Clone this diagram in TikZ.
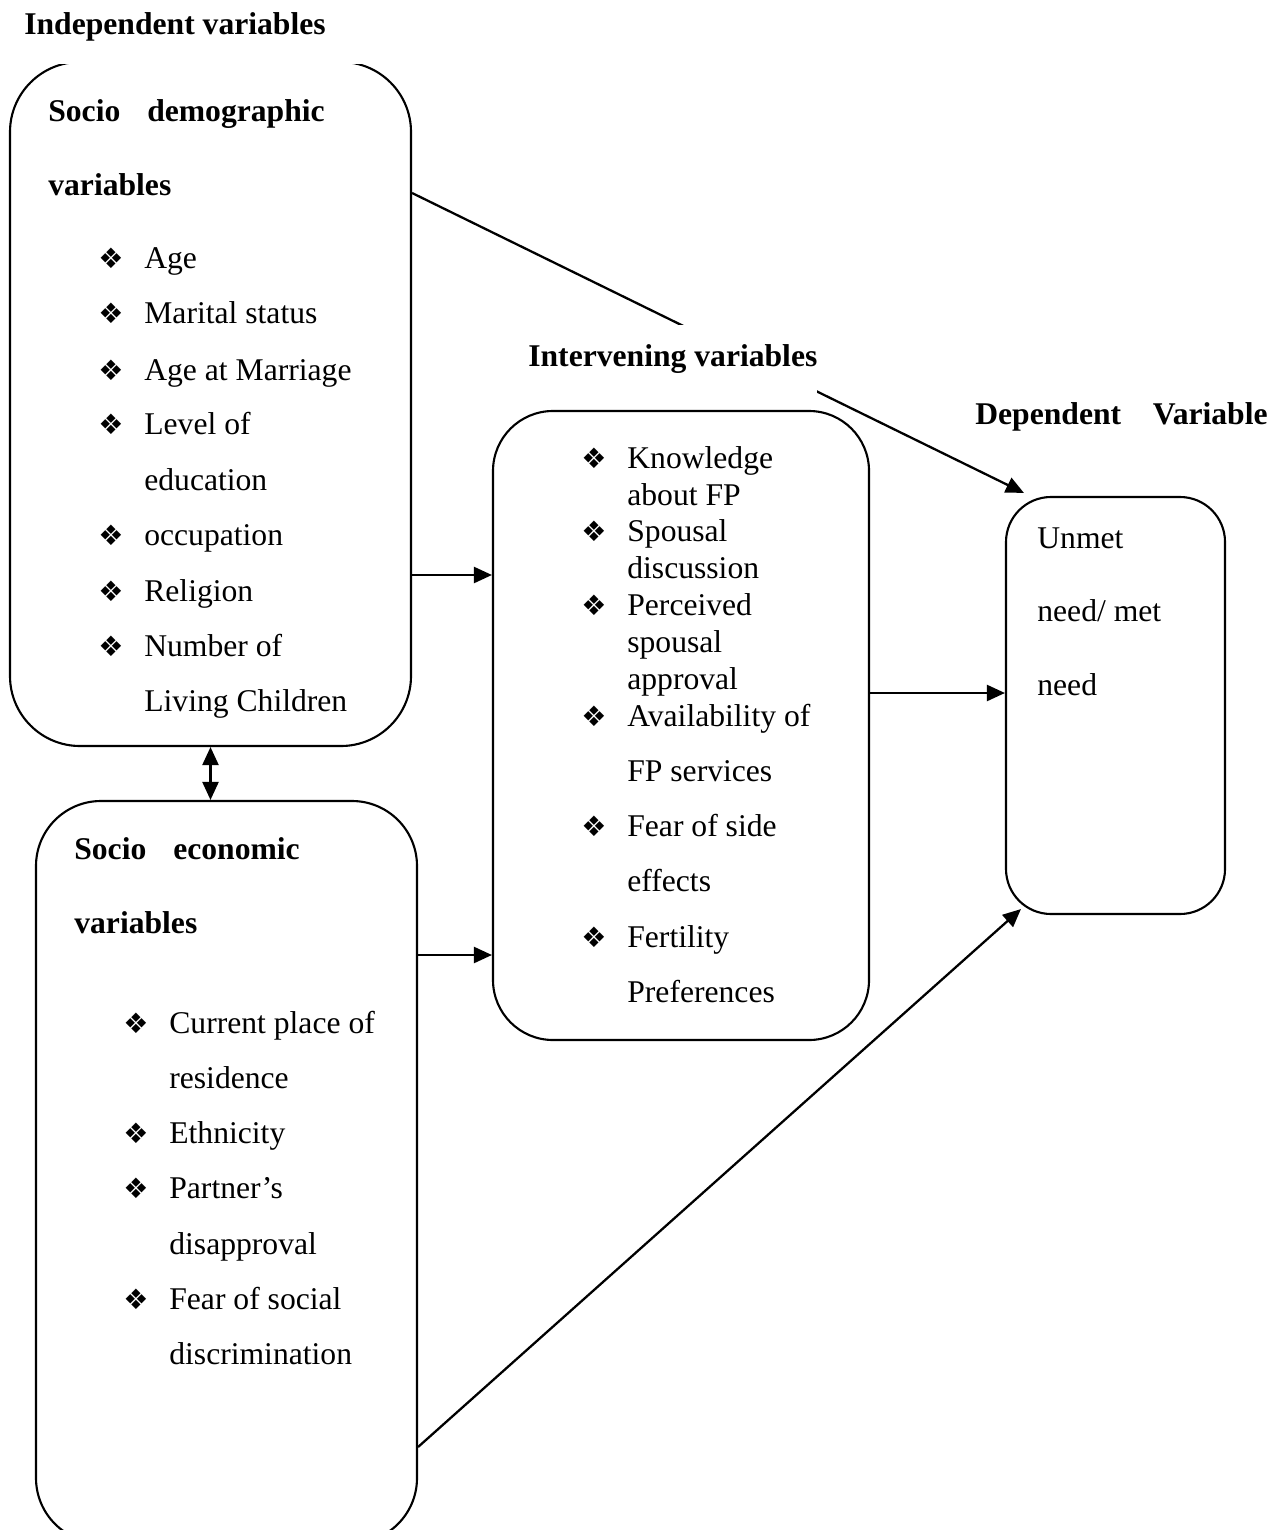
\documentclass[tikz,border=0pt]{standalone}
\usepackage{fontspec}
\setmainfont{Liberation Serif}
\newfontfamily\dingfont{DejaVu Sans}
\usetikzlibrary{arrows.meta, fit}

\tikzset{
    varbox/.style={draw=black, line width=1.2pt, inner sep=0pt, rounded corners=#1},
    varbox/.default=1.2cm,
    txt/.style={anchor=base west, inner sep=0pt, font=\fontsize{18}{22}\selectfont},
    heading/.style={txt, font=\fontsize{18}{22}\selectfont\bfseries},
    bullet/.style={anchor=base west, inner sep=0pt, font=\dingfont\fontsize{16}{16}\selectfont},
    link/.style={-{Triangle[length=0.36cm, width=0.32cm]}, line width=1.3pt},
    twoway/.style={{Triangle[length=0.36cm, width=0.32cm]}-{Triangle[length=0.36cm, width=0.32cm]}, line width=1.3pt},
}
\newcommand{\dingbullet}{❖}

\begin{document}
\begin{tikzpicture}[x=0.02cm, y=-0.02cm]
    \useasboundingbox (0,0) rectangle (1283,1530);

    % boxes (the top edge of the first one and the bottom of the last one are cut off)
    \begin{scope}
        \clip (0,65) rectangle (1283,1530);
        \node[varbox=1.4cm, fit={(10,62) (411,746)}] (socdem) {};
        \node[varbox=1.3cm, fit={(36,801) (417,1543)}] (socecon) {};
    \end{scope}
    \node[varbox, fit={(493,411) (869,1040)}] (interv) {};
    \node[varbox=0.9cm, fit={(1006,497) (1225,914)}] (depend) {};

    % connectors
    \draw[link] (socdem.east |- 0,193) -- ([shift={(19,-3)}]depend.north west);
    \draw[link] (socdem.east |- 0,575) -- (interv.west |- 0,575);
    \draw[link] (socecon.east |- 0,955) -- (interv.west |- 0,955);
    \draw[link] (interv.east |- 0,693) -- (depend.west |- 0,693);
    \draw[link] (socecon.east |- 0,1447) -- ([shift={(16,-6)}]depend.south west);
    \draw[twoway] (socdem.south) -- (socdem.south |- socecon.north);

    % column titles
    \node[heading] (indeptitle) at (24,35) {Independent variables};
    \node[heading, fill=white, text height=0.84cm, text depth=0.56cm] (intervtitle) at (528,367) {Intervening variables};
    \node[heading] (deptitle) at (975,424) {Dependent\quad Variable};

    % socio demographic variables
    \node[heading] (sdhead1) at (48,122) {Socio\hspace{0.85em}demographic};
    \node[heading] (sdhead2) at (48,196) {variables};
    \foreach \y/\t [count=\i] in {269/Age, 324/Marital status, 380/Age at Marriage, 435/Level of,
        490/education, 545/occupation, 601/Religion, 656/Number of, 711/Living Children}
        \node[txt] (sd\i) at (144,\y) {\t};
    \foreach \y in {269, 324, 380, 435, 545, 601, 656}
        \node[bullet] (sdb\y) at (98,\y) {\dingbullet};

    % socio economic variables
    \node[heading] (sehead1) at (74,859) {Socio\hspace{0.85em}economic};
    \node[heading] (sehead2) at (74,933) {variables};
    \foreach \y/\t [count=\i] in {1033/Current place of, 1088/residence, 1143/Ethnicity, 1198/Partner’s,
        1254/disapproval, 1309/Fear of social, 1364/discrimination}
        \node[txt] (se\i) at (169,\y) {\t};
    \foreach \y in {1033, 1143, 1198, 1309}
        \node[bullet] (seb\y) at (123,\y) {\dingbullet};

    % intervening variables
    \foreach \y/\t [count=\i] in {468/Knowledge, 505/about FP, 541/Spousal, 578/discussion, 615/Perceived,
        652/spousal, 689/approval, 726/Availability of, 781/FP services, 836/Fear of side,
        891/effects, 947/Fertility, 1002/Preferences}
        \node[txt] (iv\i) at (627,\y) {\t};
    \foreach \y in {468, 541, 615, 726, 836, 947}
        \node[bullet] (ivb\y) at (581,\y) {\dingbullet};

    % dependent variable
    \node[txt] (dv1) at (1037,548) {Unmet};
    \node[txt] (dv2) at (1037,621) {need/ met};
    \node[txt] (dv3) at (1037,695) {need};

\end{tikzpicture}
\end{document}
